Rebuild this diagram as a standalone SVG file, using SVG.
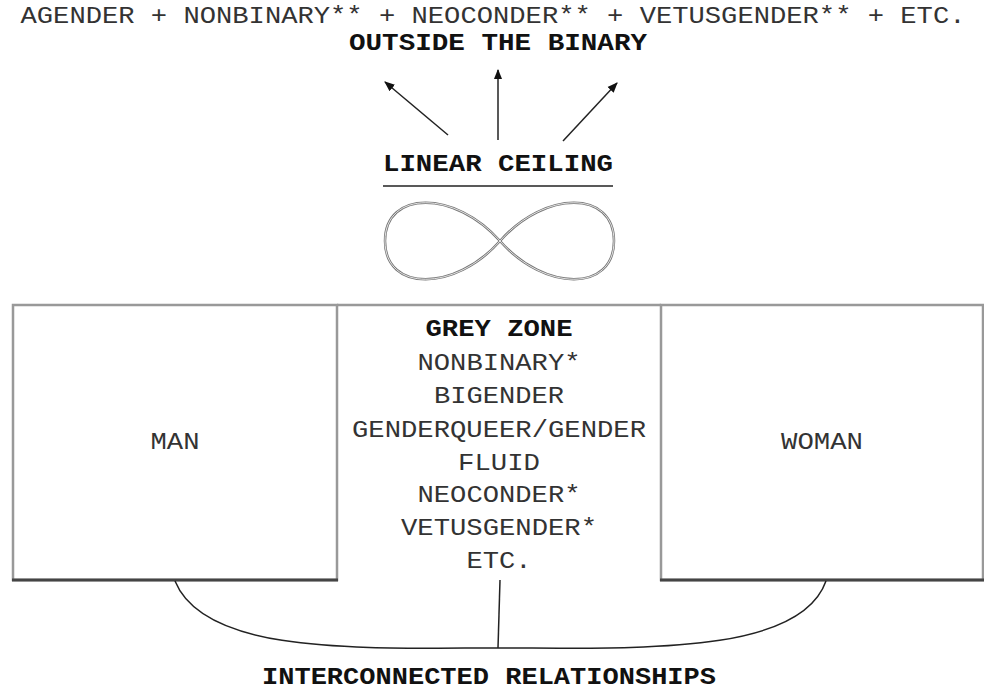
<svg xmlns="http://www.w3.org/2000/svg" width="984" height="692" viewBox="0 0 984 692">
<style>
.t{font-family:"Liberation Mono","Courier New",monospace;font-size:23px;fill:#333;text-anchor:middle}
.b{font-family:"Liberation Mono","Courier New",monospace;font-size:23px;font-weight:bold;fill:#111;text-anchor:middle}
.box{fill:none;stroke:#999;stroke-width:2.5}
.bot{stroke:#444;stroke-width:3}
.con{fill:none;stroke:#222;stroke-width:1.5}
</style>
<defs>
<marker id="ah" viewBox="0 0 10 10" refX="9" refY="5" markerWidth="7" markerHeight="7" orient="auto">
<path d="M0,1 L10,5 L0,9 Z" fill="#111"/>
</marker>
</defs>
<rect width="984" height="692" fill="#fff"/>
<g id="outside">
<text class="t" x="493" y="23" textLength="945" lengthAdjust="spacingAndGlyphs">AGENDER + NONBINARY** + NEOCONDER** + VETUSGENDER** + ETC.</text>
<text class="b" x="498" y="50" textLength="298" lengthAdjust="spacingAndGlyphs">OUTSIDE THE BINARY</text>
</g>
<g id="ceiling">
<text class="b" x="498" y="171" textLength="230" lengthAdjust="spacingAndGlyphs">LINEAR CEILING</text>
<line x1="383" y1="186" x2="613" y2="186" stroke="#222" stroke-width="1.5"/>
<path d="M500,241 C455,190 385,190 385,241 C385,292 455,292 500,241 C545,190 614,190 614,241 C614,292 545,292 500,241 Z" fill="none" stroke="#777" stroke-width="2.5"/>
<path d="M500,241 C455,190 385,190 385,241 C385,292 455,292 500,241 C545,190 614,190 614,241 C614,292 545,292 500,241 Z" fill="none" stroke="#fff" stroke-width="0.8"/>
</g>
<g id="man">
<rect class="box" x="13" y="305" width="324" height="275"/>
<line class="bot" x1="12" y1="580" x2="338" y2="580"/>
<text class="t" x="175" y="449" textLength="49" lengthAdjust="spacingAndGlyphs">MAN</text>
</g>
<g id="woman">
<rect class="box" x="661" y="305" width="322" height="275"/>
<line class="bot" x1="660" y1="580" x2="984" y2="580"/>
<text class="t" x="822" y="449" textLength="82" lengthAdjust="spacingAndGlyphs">WOMAN</text>
</g>
<g id="greyzone">
<line class="box" x1="337" y1="305" x2="661" y2="305"/>
<text class="b" x="499" y="336" textLength="147" lengthAdjust="spacingAndGlyphs">GREY ZONE</text>
<text class="t" x="499" y="370" textLength="163" lengthAdjust="spacingAndGlyphs">NONBINARY*</text>
<text class="t" x="499" y="403" textLength="130" lengthAdjust="spacingAndGlyphs">BIGENDER</text>
<text class="t" x="499" y="437" textLength="294" lengthAdjust="spacingAndGlyphs">GENDERQUEER/GENDER</text>
<text class="t" x="499" y="470" textLength="82" lengthAdjust="spacingAndGlyphs">FLUID</text>
<text class="t" x="499" y="502" textLength="163" lengthAdjust="spacingAndGlyphs">NEOCONDER*</text>
<text class="t" x="499" y="535" textLength="196" lengthAdjust="spacingAndGlyphs">VETUSGENDER*</text>
<text class="t" x="499" y="568" textLength="65" lengthAdjust="spacingAndGlyphs">ETC.</text>
</g>
<g id="relationships">
<text class="b" x="489" y="684" textLength="454" lengthAdjust="spacingAndGlyphs">INTERCONNECTED RELATIONSHIPS</text>
</g>
<g id="connectors">
<line class="con" x1="448" y1="135" x2="385" y2="82" marker-end="url(#ah)"/>
<line class="con" x1="498" y1="140" x2="498" y2="70" marker-end="url(#ah)"/>
<line class="con" x1="563" y1="141" x2="617" y2="83" marker-end="url(#ah)"/>
<path class="con" d="M175,581 C205,655 360,648 498,648 C640,648 800,655 826,581"/>
<line class="con" x1="500" y1="580" x2="498" y2="648"/>
</g>
</svg>
